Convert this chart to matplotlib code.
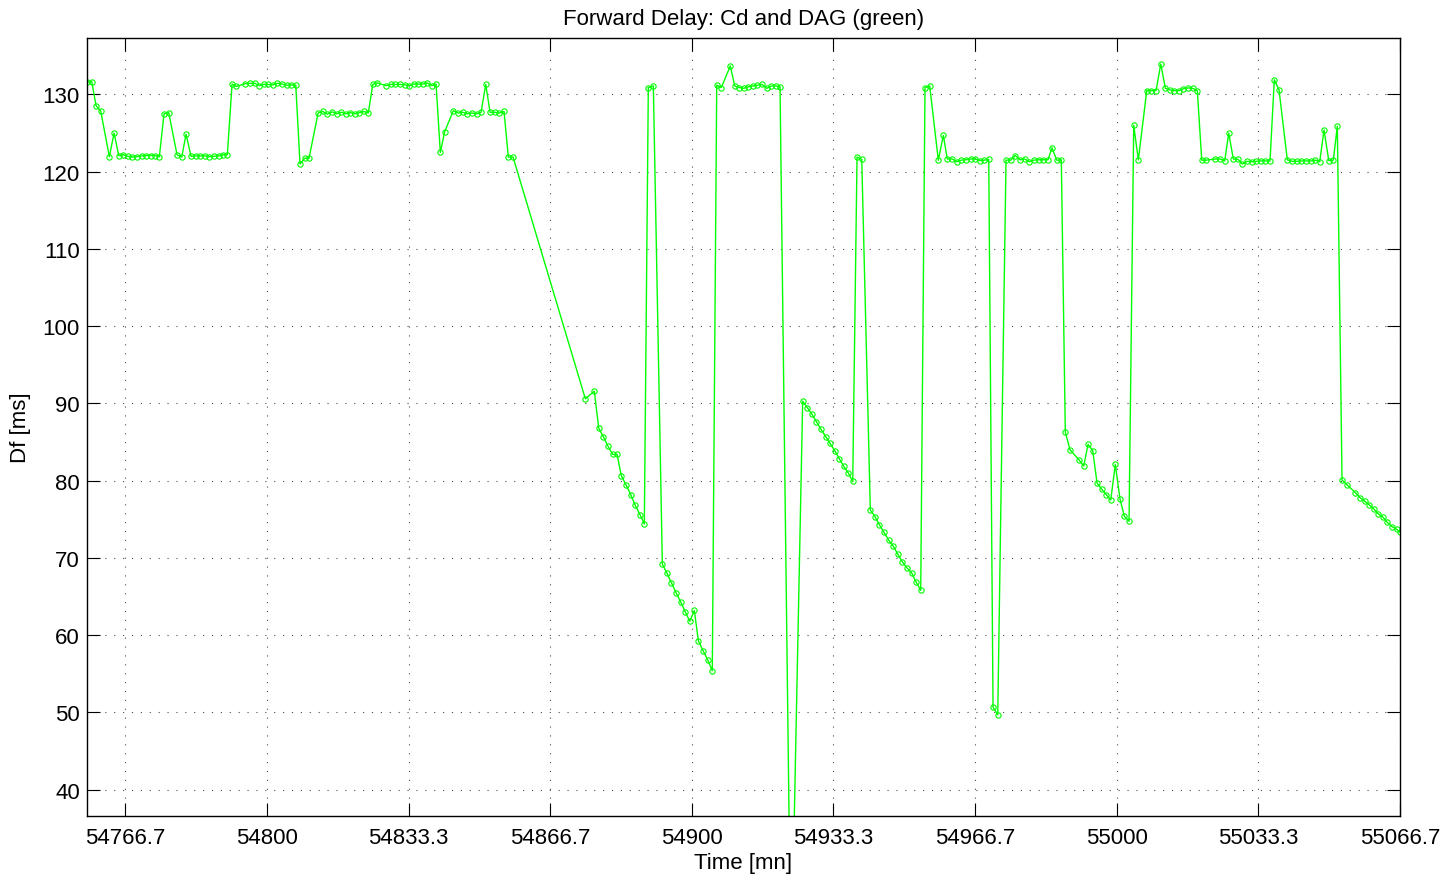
import numpy as np
import matplotlib.pyplot as plt

plt.rcParams['font.family'] = ['Liberation Sans', 'DejaVu Sans']

# start time of the record [mn]
t0 = 54757.6

# minutes after t0 for each sample
minutes = [
    0.0, 1.18, 2.19, 3.29, 5.32, 6.43, 7.53, 8.61, 9.65, 10.73,
    11.84, 12.94, 13.96, 15.06, 16.15, 17.09, 18.19, 19.30, 21.25, 22.36,
    23.37, 24.55, 25.65, 26.67, 27.77, 28.85, 29.96, 31.07, 32.15, 33.09,
    34.20, 35.21, 37.33, 38.43, 39.54, 40.62, 41.66, 42.74, 43.85, 44.86,
    45.96, 47.07, 48.15, 49.19, 50.20, 51.31, 52.32, 54.44, 55.54, 56.63,
    57.73, 58.84, 59.92, 60.96, 62.04, 63.14, 64.16, 65.26, 66.27, 67.31,
    68.32, 70.44, 71.55, 72.63, 73.74, 74.84, 75.92, 76.91, 77.97, 79.03,
    80.09, 81.20, 82.21, 83.22, 84.25, 86.28, 87.39, 88.49, 89.57, 90.68,
    91.79, 92.80, 93.91, 94.92, 96.02, 97.11, 98.21, 99.22, 100.33,
    117.35, 119.46, 120.50, 121.58, 122.69, 123.79, 124.81, 125.82, 126.92, 128.03,
    129.11, 130.22, 131.23, 132.17, 133.35, 135.47, 136.50, 137.59, 138.69, 139.80,
    140.88, 141.92, 143.00, 143.94, 145.05, 146.15, 147.23, 148.27, 149.35, 151.47,
    152.51, 153.59, 154.62, 155.71, 156.81, 157.83, 158.93, 160.04, 161.12, 162.23,
    163.17, 165.76, 168.50, 169.58, 170.69, 171.71, 172.81, 173.92, 174.93, 176.04,
    177.12, 178.16, 179.24, 180.28, 181.29, 182.40, 184.42, 185.53, 186.54, 187.64,
    188.75, 189.83, 190.87, 191.95, 193.06, 194.16, 195.18, 196.28, 197.29, 198.40,
    200.42, 201.60, 202.54, 203.72, 204.75, 205.84, 206.94, 208.05, 209.06, 210.17,
    211.25, 212.29, 213.30, 214.41, 216.36, 217.47, 218.55, 219.65, 220.76, 221.84,
    222.95, 224.05, 225.14, 226.24, 227.18, 228.29, 229.37, 230.31, 231.42, 233.54,
    234.64, 235.66, 236.76, 237.78, 238.88, 239.96, 241.00, 242.08, 243.19, 244.20,
    245.31, 246.41, 247.50, 249.48, 250.57, 251.67, 252.78, 253.86, 254.90, 255.98,
    257.09, 258.10, 259.20, 260.30, 261.38, 262.42, 263.50, 265.62, 266.73, 267.83,
    268.77, 269.86, 270.96, 271.97, 273.08, 274.18, 275.27, 276.30, 277.38, 278.49,
    279.50, 280.61, 282.56, 283.67, 284.78, 285.86, 286.96, 288.07, 289.15, 290.19,
    291.20, 292.31, 293.39, 294.33, 295.44, 296.55, 298.58, 299.68, 300.79, 301.80,
    302.91, 303.99, 305.03, 306.11, 307.22, 308.32, 309.10,
]

# forward delay [ms]
delay = [
    131.6, 131.65, 128.55, 127.85, 121.95, 125.0, 122.1, 122.2, 122.0, 121.9,
    121.95, 122.05, 122.1, 122.1, 122.1, 121.95, 127.5, 127.65, 122.2, 121.9,
    124.85, 122.0, 122.05, 122.05, 122.05, 121.95, 122.0, 122.05, 122.2, 122.2,
    131.35, 131.05, 131.4, 131.45, 131.45, 131.15, 131.3, 131.3, 131.25, 131.45,
    131.35, 131.2, 131.25, 131.2, 121.0, 121.75, 121.75, 127.6, 127.8, 127.45,
    127.75, 127.5, 127.7, 127.5, 127.65, 127.5, 127.65, 127.8, 127.6, 131.3,
    131.5, 131.15, 131.3, 131.3, 131.3, 131.25, 131.15, 131.35, 131.35, 131.35,
    131.5, 131.15, 131.35, 122.5, 125.2, 127.9, 127.6, 127.7, 127.5, 127.6,
    127.5, 127.7, 131.3, 127.7, 127.7, 127.6, 127.8, 121.9, 121.9,
    90.6, 91.6, 86.8, 85.7, 84.45, 83.4, 83.4, 80.65, 79.45, 78.2,
    76.8, 75.6, 74.4, 130.9, 131.1, 69.2, 68.1, 66.8, 65.5, 64.3,
    63.0, 61.8, 63.2, 59.3, 58.0, 56.8, 55.4, 131.2, 130.9, 133.7,
    131.1, 130.9, 130.8, 131.0, 131.1, 131.2, 131.3, 130.8, 131.1, 131.1,
    131.0, 15.5, 90.3, 89.45, 88.6, 87.65, 86.65, 85.7, 84.85, 83.9,
    82.85, 81.85, 81.0, 79.9, 121.9, 121.6, 76.2, 75.35, 74.3, 73.3,
    72.3, 71.5, 70.5, 69.5, 68.7, 68.05, 66.9, 65.8, 130.9, 131.1,
    121.5, 124.7, 121.65, 121.65, 121.3, 121.5, 121.55, 121.65, 121.65, 121.45,
    121.5, 121.6, 50.7, 49.7, 121.5, 121.5, 122.1, 121.55, 121.65, 121.3,
    121.5, 121.55, 121.55, 121.55, 123.1, 121.5, 121.55, 86.3, 84.0, 82.7,
    81.9, 84.7, 83.9, 79.7, 78.9, 78.2, 77.5, 82.1, 77.6, 75.4,
    74.75, 126.0, 121.55, 130.5, 130.5, 130.5, 133.95, 130.8, 130.6, 130.5,
    130.5, 130.75, 130.85, 130.8, 130.5, 121.5, 121.5, 121.65, 121.65, 121.4,
    125.0, 121.65, 121.6, 121.0, 121.35, 121.3, 121.35, 121.4, 121.4, 121.4,
    131.9, 130.6, 121.55, 121.35, 121.35, 121.4, 121.4, 121.4, 121.5, 121.3,
    125.4, 121.45, 121.5, 125.9, 80.1, 79.5, 78.45, 77.8, 77.35, 76.9,
    76.35, 75.7, 75.3, 74.6, 74.05, 73.7, 73.35,
]

xticks = [54766.67, 54800, 54833.33, 54866.67, 54900, 54933.33,
          54966.67, 55000, 55033.33, 55066.67]
xticklabels = ['54766.7', '54800', '54833.3', '54866.7', '54900', '54933.3',
               '54966.7', '55000', '55033.3', '55066.7']
yticks = [40, 50, 60, 70, 80, 90, 100, 110, 120, 130]

time = t0 + np.array(minutes)

fig = plt.figure(figsize=(14.41, 8.78), dpi=100)
ax = fig.add_axes([0.0602, 0.0698, 0.9114, 0.8854])

ax.plot(time, delay, color=(0, 1, 0), linewidth=1.0, marker='o',
        markersize=3.8, markerfacecolor='none', markeredgewidth=0.8)

ax.set_xlim(54757.6, 55066.7)
ax.set_ylim(36.63, 137.27)
ax.set_xticks(xticks)
ax.set_xticklabels(xticklabels)
ax.set_yticks(yticks)

ax.grid(True, color='0.3', linestyle=(0, (1, 7)), linewidth=0.8)
ax.tick_params(direction='in', length=9.5, width=0.8, top=True, right=True,
               labelsize=16)
ax.tick_params(axis='x', pad=8)
ax.tick_params(axis='y', pad=5)
for s in ax.spines.values():
    s.set_linewidth(1.0)

ax.set_title('Forward Delay: Cd and DAG (green)', fontsize=16, pad=10)
ax.set_xlabel('Time [mn]', fontsize=16, labelpad=3)
ax.set_ylabel('Df [ms]', fontsize=16, labelpad=8)

plt.savefig('out.png', dpi=100)
